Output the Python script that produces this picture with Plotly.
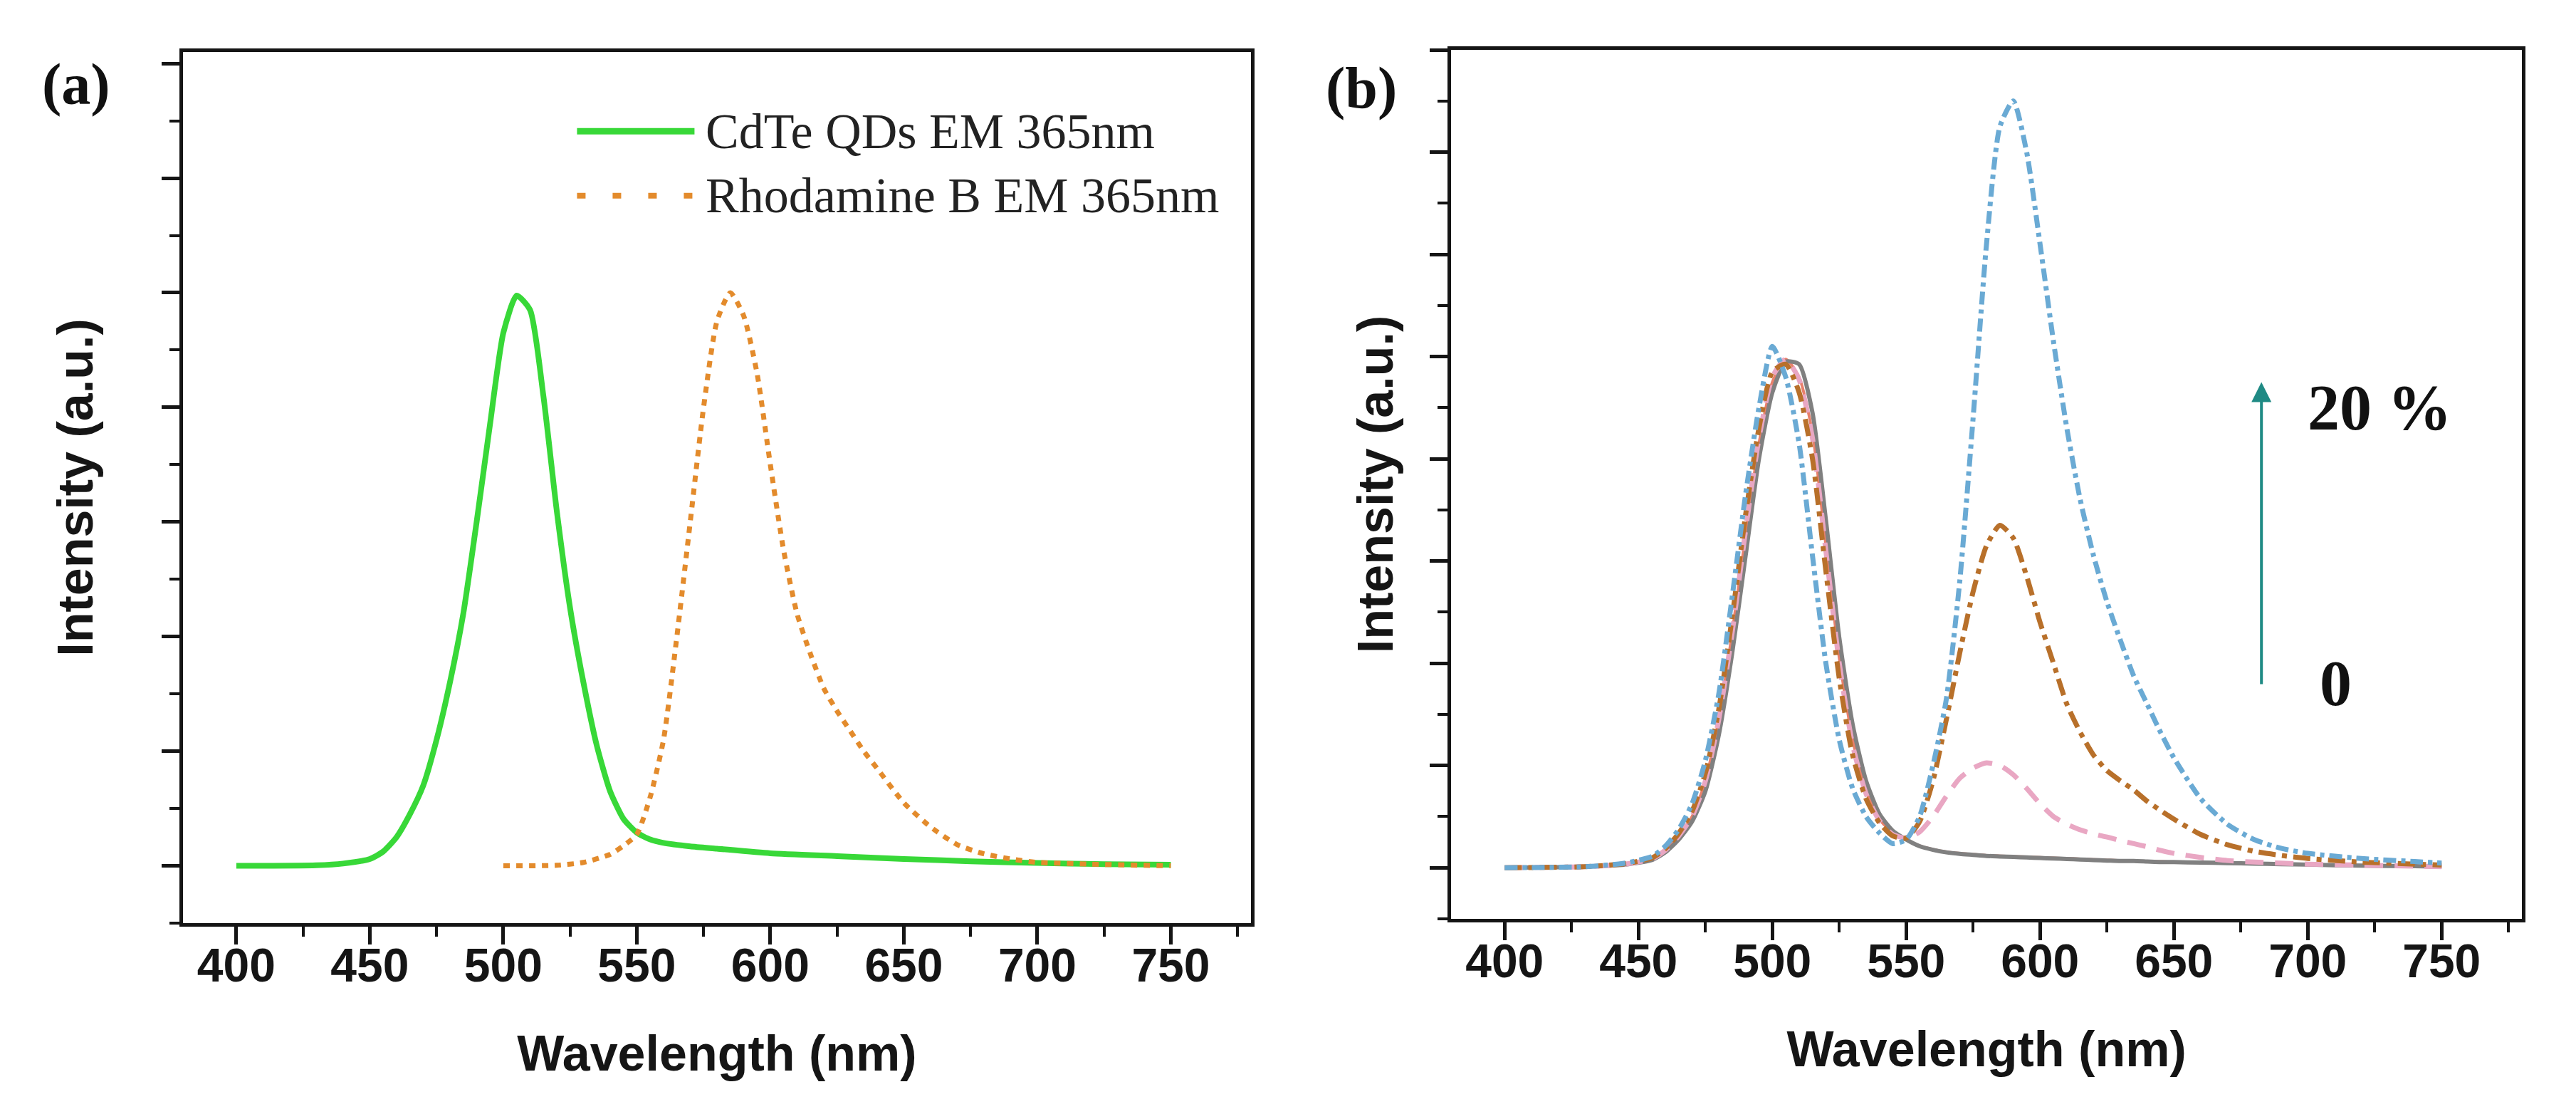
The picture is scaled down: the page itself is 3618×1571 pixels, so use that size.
import plotly.graph_objects as go

# ---------- panel (a) data ----------
wl_qd = [400, 430, 440, 450, 455, 460, 465, 470, 475, 480, 485, 490, 495, 500, 505,
         510, 515, 520, 525, 530, 535, 540, 545, 550, 555, 560, 570, 580, 600, 625,
         650, 675, 700, 725, 750]
cdte_qd = [0, 0.001, 0.004, 0.012, 0.025, 0.05, 0.09, 0.14, 0.22, 0.32, 0.44, 0.60, 0.77,
           0.93, 0.995, 0.97, 0.82, 0.62, 0.45, 0.32, 0.21, 0.13, 0.082, 0.058, 0.046,
           0.04, 0.034, 0.03, 0.022, 0.017, 0.012, 0.008, 0.005, 0.003, 0.002]

wl_rb = [500, 520, 530, 540, 545, 550, 555, 560, 565, 570, 575, 580, 585, 590, 595, 600,
         605, 610, 615, 620, 625, 630, 635, 640, 650, 660, 670, 680, 690, 700, 720, 750]
rhodamine = [0, 0.001, 0.006, 0.02, 0.035, 0.055, 0.12, 0.22, 0.40, 0.60, 0.80, 0.95, 1.0,
             0.96, 0.86, 0.70, 0.55, 0.44, 0.37, 0.31, 0.27, 0.235, 0.20, 0.17, 0.11,
             0.068, 0.037, 0.021, 0.012, 0.006, 0.003, 0.0]

legend_a = ["CdTe QDs EM 365nm", "Rhodamine B EM 365nm"]

# ---------- panel (b) data ----------
wl_b = [400, 430, 445, 455, 460, 465, 470, 475, 480, 485, 490, 495, 500, 505, 510, 515,
        520, 525, 530, 535, 540, 545, 550, 555, 560, 565, 570, 575, 580, 585, 590, 595,
        600, 605, 610, 615, 620, 625, 630, 635, 640, 645, 650, 660, 670, 680, 690, 700,
        720, 740, 750]
gray_0 = [0, 0.002, 0.006, 0.015, 0.03, 0.055, 0.09, 0.15, 0.26, 0.42, 0.61, 0.80, 0.93,
          0.99, 0.985, 0.89, 0.68, 0.45, 0.28, 0.17, 0.105, 0.072, 0.055, 0.042, 0.035,
          0.03, 0.027, 0.025, 0.023, 0.022, 0.021, 0.02, 0.019, 0.018, 0.017, 0.016,
          0.015, 0.014, 0.013, 0.013, 0.012, 0.011, 0.011, 0.01, 0.009, 0.008, 0.007,
          0.006, 0.004, 0.003, 0.002]
salmon_1 = [0, 0.002, 0.007, 0.017, 0.034, 0.062, 0.10, 0.17, 0.29, 0.46, 0.65, 0.83, 0.95,
            0.995, 0.96, 0.85, 0.63, 0.41, 0.25, 0.15, 0.095, 0.068, 0.055, 0.043, 0.036,
            0.031, 0.028, 0.026, 0.024, 0.023, 0.022, 0.021, 0.02, 0.019, 0.018, 0.017,
            0.016, 0.015, 0.014, 0.013, 0.012, 0.012, 0.011, 0.01, 0.009, 0.008, 0.007,
            0.006, 0.004, 0.003, 0.002]
pink_2 = [0, 0.002, 0.007, 0.017, 0.034, 0.062, 0.10, 0.17, 0.29, 0.46, 0.66, 0.84, 0.96,
          0.995, 0.955, 0.84, 0.62, 0.40, 0.24, 0.145, 0.092, 0.065, 0.058, 0.07, 0.10,
          0.14, 0.175, 0.195, 0.205, 0.20, 0.182, 0.155, 0.125, 0.10, 0.085, 0.074, 0.066,
          0.06, 0.053, 0.047, 0.041, 0.034, 0.028, 0.02, 0.014, 0.011, 0.009, 0.007,
          0.005, 0.003, 0.002]
orange_3 = [0, 0.002, 0.008, 0.019, 0.037, 0.067, 0.11, 0.185, 0.31, 0.49, 0.69, 0.86, 0.97,
            0.985, 0.93, 0.80, 0.58, 0.37, 0.22, 0.135, 0.088, 0.062, 0.058, 0.09, 0.17,
            0.29, 0.42, 0.54, 0.63, 0.67, 0.645, 0.57, 0.48, 0.40, 0.32, 0.265, 0.22, 0.19,
            0.17, 0.152, 0.13, 0.112, 0.095, 0.065, 0.045, 0.032, 0.024, 0.018, 0.011,
            0.007, 0.005]
blue_4 = [0, 0.002, 0.009, 0.022, 0.042, 0.075, 0.125, 0.21, 0.34, 0.53, 0.73, 0.90, 1.02,
          0.96, 0.83, 0.61, 0.40, 0.25, 0.155, 0.10, 0.068, 0.047, 0.055, 0.10, 0.20, 0.33,
          0.56, 0.88, 1.22, 1.45, 1.50, 1.40, 1.22, 1.03, 0.86, 0.72, 0.61, 0.52, 0.445,
          0.375, 0.32, 0.265, 0.215, 0.135, 0.085, 0.055, 0.038, 0.028, 0.018, 0.012, 0.009]

# drawing order: bottom to top
series_b = [
    (salmon_1, "#e8806c", "solid", 4),
    (gray_0, "#808080", "solid", 6),
    (pink_2, "#e9a7c3", "26px,16px", 7),
    (orange_3, "#b8702a", "24px,9px,7px,9px", 7),
    (blue_4, "#6aaad4", "18px,7px,6px,7px", 7),
]

TXT = "#151515"
SANS = "Liberation Sans, Arial, sans-serif"
SERIF = "Liberation Serif, Times New Roman, serif"
GREEN = "#38d838"
RB_ORANGE = "#e38b2c"

fig = go.Figure()

fig.add_trace(go.Scatter(x=wl_qd, y=cdte_qd, mode="lines", xaxis="x", yaxis="y",
                         line=dict(color=GREEN, width=8, shape="spline", smoothing=0.6),
                         showlegend=False))
fig.add_trace(go.Scatter(x=wl_rb, y=rhodamine, mode="lines", xaxis="x", yaxis="y",
                         line=dict(color=RB_ORANGE, width=7, dash="9px,9px",
                                   shape="spline", smoothing=0.6),
                         showlegend=False))

for vals, col, dash, w in series_b:
    fig.add_trace(go.Scatter(x=wl_b, y=vals, mode="lines", xaxis="x2", yaxis="y2",
                             line=dict(color=col, width=w, dash=dash, shape="spline",
                                       smoothing=0.6),
                             showlegend=False))


def xax(domain, anchor):
    return dict(domain=domain, anchor=anchor, range=[380, 780], tick0=400, dtick=50,
                ticks="outside", ticklen=25, tickwidth=5, tickcolor=TXT,
                showline=True, linewidth=5, linecolor=TXT, mirror=True,
                showgrid=False, zeroline=False, ticklabelstandoff=-27,
                tickfont=dict(family=SANS, size=66, color=TXT, weight="bold"),
                minor=dict(ticks="outside", ticklen=14, tickwidth=4, tickcolor=TXT,
                           dtick=25, tick0=400, showgrid=False),
                title=dict(text="Wavelength (nm)", standoff=64,
                           font=dict(family=SANS, size=70, color=TXT, weight="bold")))


def yax(domain, anchor, rng, standoff):
    return dict(domain=domain, anchor=anchor, range=rng, tick0=0, dtick=0.2,
                ticks="outside", ticklen=25, tickwidth=5, tickcolor=TXT,
                showticklabels=False, showline=True, linewidth=5, linecolor=TXT,
                mirror=True, showgrid=False, zeroline=False,
                minor=dict(ticks="outside", ticklen=14, tickwidth=4, tickcolor=TXT,
                           dtick=0.1, tick0=0, showgrid=False),
                title=dict(text="Intensity (a.u.)", standoff=standoff,
                           font=dict(family=SANS, size=70, color=TXT, weight="bold")))


fig.update_layout(
    width=3618, height=1571,
    margin=dict(l=0, r=0, t=0, b=0),
    paper_bgcolor="white", plot_bgcolor="white",
    xaxis=xax([0.0688, 0.4834], "y"),
    yaxis=yax([0.1801, 0.9586], "x", [-0.1, 1.42], 75),
    xaxis2=xax([0.5611, 0.9768], "y2"),
    yaxis2=yax([0.1840, 0.9605], "x2", [-0.1, 1.6], 30),
)

# legend of panel (a), drawn as sample lines + text
leg_rows = [(0.909, GREEN, "solid", 9), (0.835, RB_ORANGE, "12px,38px", 8)]
for (yy, col, dash, w), label in zip(leg_rows, legend_a):
    fig.add_shape(type="line", xref="x domain", yref="y domain", x0=0.369, x1=0.479,
                  y0=yy, y1=yy, line=dict(color=col, width=w, dash=dash))
    fig.add_annotation(xref="x domain", yref="y domain", x=0.488, y=yy, text=label,
                       showarrow=False, xanchor="left", yanchor="middle",
                       font=dict(family=SERIF, size=70, color="#222222"))

# panel labels
for px_, py_, lab in [(0.0274, 0.9295, "(a)"), (0.5262, 0.9266, "(b)")]:
    fig.add_annotation(xref="paper", yref="paper", x=px_, y=py_, text=lab,
                       showarrow=False, xanchor="center", yanchor="middle",
                       font=dict(family=SERIF, size=82, color="#111111", weight="bold"))

# concentration arrow in panel (b)
fig.add_annotation(xref="x2", yref="y2", axref="x2", ayref="y2",
                   x=682.7, y=0.95, ax=682.7, ay=0.357, text="",
                   showarrow=True, arrowhead=2, arrowsize=1.4, arrowwidth=4,
                   arrowcolor="#1f8a84")
fig.add_annotation(xref="x2", yref="y2", x=726.9, y=0.90, text="20 %", showarrow=False,
                   font=dict(family=SERIF, size=90, color="#111111", weight="bold"))
fig.add_annotation(xref="x2", yref="y2", x=710.4, y=0.36, text="0", showarrow=False,
                   font=dict(family=SERIF, size=90, color="#111111", weight="bold"))

fig.write_html("out.html")
